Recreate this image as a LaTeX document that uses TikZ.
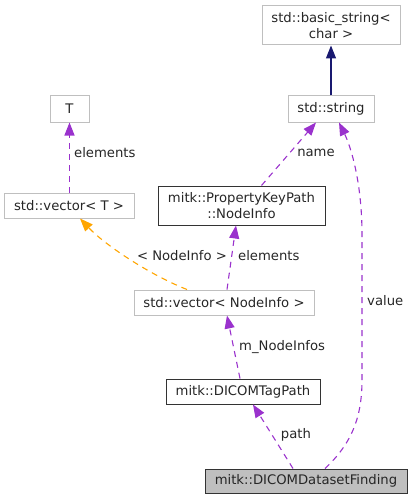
\documentclass[tikz,border=0pt]{standalone}
\usepackage{fontspec}
\setmainfont{DejaVu Sans}
\usetikzlibrary{arrows.meta}
\definecolor{boxgray}{HTML}{BFBFBF}
\definecolor{edgepurple}{HTML}{9A32CD}
\definecolor{edgeorange}{HTML}{FFA500}
\definecolor{edgenavy}{HTML}{191970}
\tikzset{
  x=1pt,y=-1pt,
  cls/.style={draw=boxgray,line width=1pt,inner sep=0pt,align=center,text=black!85,font=\fontsize{13.2}{16}\selectfont},
  clsb/.style={cls,draw=black!80},
  clsmain/.style={cls,draw=black!80,fill=boxgray},
  usage/.style={draw=edgepurple,line width=1.1pt,dash pattern=on 6pt off 5pt,-{Triangle[length=13pt,width=10pt]}},
  templ/.style={draw=edgeorange,line width=1.1pt,dash pattern=on 6pt off 5pt,-{Triangle[length=13pt,width=10pt]}},
  inher/.style={draw=edgenavy,line width=1.1pt,-{Triangle[length=13pt,width=10pt]}},
  lbl/.style={font=\fontsize{13.2}{16}\selectfont,text=black!85,inner sep=0pt}
}
\begin{document}
\begin{tikzpicture}
\useasboundingbox (0,0) rectangle (413,500);
\node[cls,minimum width=138pt,minimum height=39pt] (basic) at (331,25.5) {std::basic\_string<\\char >};
\node[cls,minimum width=86pt,minimum height=26pt] (string) at (331,109) {std::string};
\node[cls,minimum width=39pt,minimum height=26pt] (T) at (69.5,109) {T};
\node[cls,minimum width=130pt,minimum height=25pt] (vecT) at (69,205.5) {std::vector< T >};
\node[clsb,minimum width=167pt,minimum height=39pt] (NodeInfo) at (241.5,205.5) {mitk::PropertyKeyPath\\::NodeInfo};
\node[cls,minimum width=180pt,minimum height=25pt] (vecNI) at (224,302.5) {std::vector< NodeInfo >};
\node[clsb,minimum width=154pt,minimum height=25pt] (TagPath) at (243,391.5) {mitk::DICOMTagPath};
\node[clsmain,minimum width=202pt,minimum height=24pt] (Finding) at (306,481) {mitk::DICOMDatasetFinding};

\draw[inher] (string.north) -- (basic.south);
\draw[usage] ([xshift=0.5pt]vecT.north) -- (T.south);
\draw[usage] ([xshift=20pt]NodeInfo.north) -- ([xshift=-15pt]string.south);
\draw[templ] ([xshift=-37pt]vecNI.north) .. controls (150,275) and (105,245) .. ([xshift=11pt]vecT.south);
\draw[usage] ([xshift=3pt]vecNI.north) -- ([xshift=-5.5pt]NodeInfo.south);
\draw[usage] ([xshift=-3pt]TagPath.north) -- ([xshift=3pt]vecNI.south);
\draw[usage] ([xshift=-13pt]Finding.north) -- ([xshift=10pt]TagPath.south);
\draw[usage] ([xshift=19pt]Finding.north) .. controls (350,445) and (362,420) .. (362,380) -- (362,235) .. controls (362,180) and (350,145) .. ([xshift=8pt]string.south);

\node[lbl,anchor=west] (l1) at (74,153) {elements};
\node[lbl] (l2) at (316,153) {name};
\node[lbl] (l3) at (182,256) {< NodeInfo >};
\node[lbl,anchor=west] (l4) at (238,256) {elements};
\node[lbl,anchor=west] (l5) at (239,347) {m\_NodeInfos};
\node[lbl] (l6) at (296,435) {path};
\node[lbl,anchor=west] (l7) at (367,301) {value};
\end{tikzpicture}
\end{document}
